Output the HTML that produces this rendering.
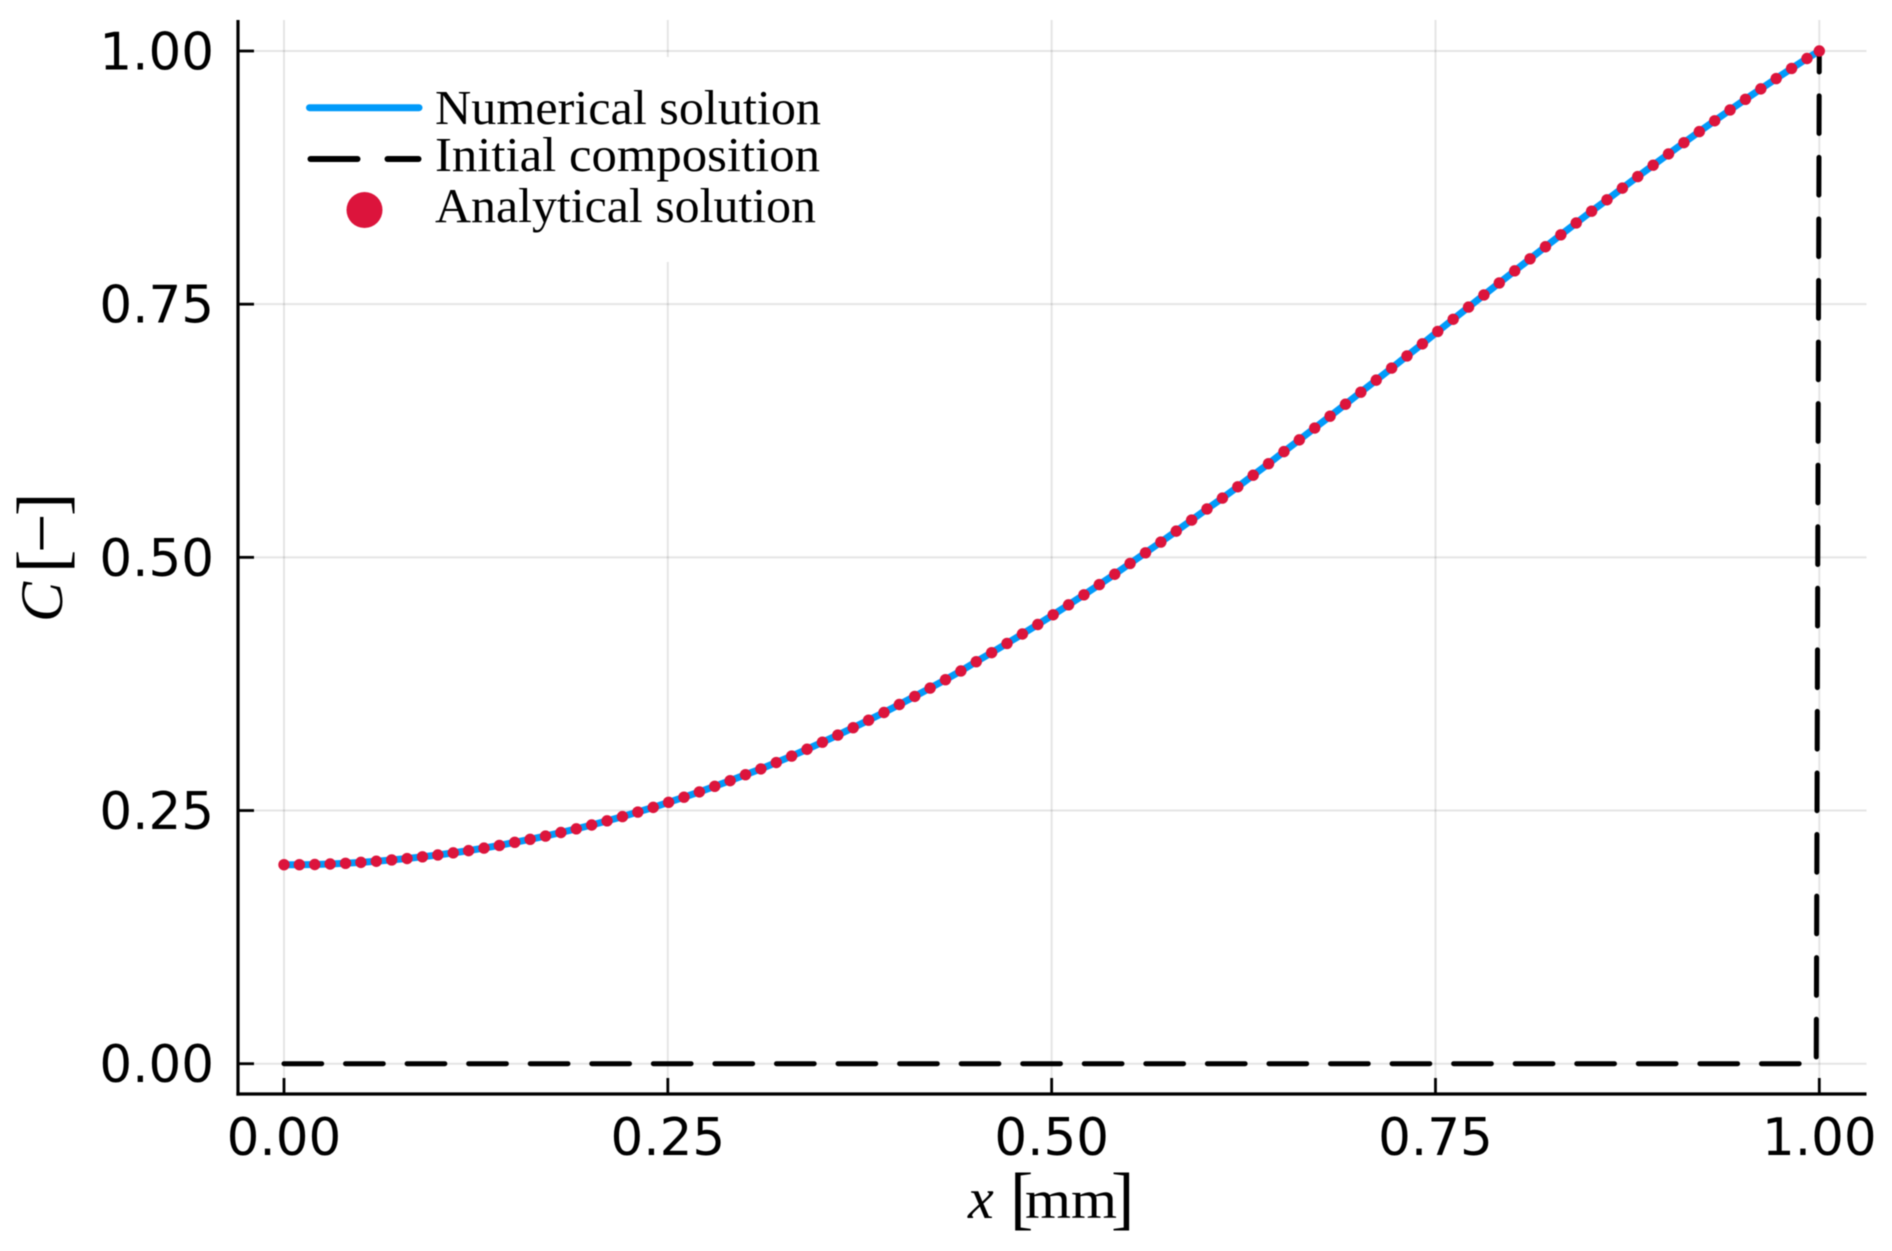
<!DOCTYPE html>
<html lang="en">
<head>
<meta charset="utf-8">
<title>Composition profile</title>
<style>
html,body{margin:0;padding:0;background:#fff;width:1892px;height:1251px;overflow:hidden}
svg{display:block;filter:blur(0.45px)}
.tick{font-family:"DejaVu Sans",sans-serif;font-size:51.5px;fill:#000}
.cm{font-family:"Liberation Serif",serif;fill:#000}
</style>
</head>
<body>
<svg id="chart" xmlns="http://www.w3.org/2000/svg" width="1892" height="1251" viewBox="0 0 1892 1251">
  <rect width="1892" height="1251" fill="#fff"/>
  <g id="grid"></g>
  <rect x="286" y="57" width="546" height="205" fill="#fff"/>
  <g id="series"></g>
  <g id="axes"></g>

  <g>
    <g>
      <line x1="309.5" y1="107.7" x2="419" y2="107.7" stroke="#009AFA" stroke-width="7" stroke-linecap="round"/>
      <text class="cm" x="435" y="124" font-size="49" textLength="386" lengthAdjust="spacingAndGlyphs">Numerical solution</text>
    </g>
    <g>
      <line x1="310.5" y1="159" x2="357.5" y2="159" stroke="#000" stroke-width="6" stroke-linecap="round"/>
      <line x1="387.5" y1="159" x2="418.5" y2="159" stroke="#000" stroke-width="6" stroke-linecap="round"/>
      <text class="cm" x="435" y="171" font-size="49" textLength="385" lengthAdjust="spacingAndGlyphs">Initial composition</text>
    </g>
    <g>
      <circle cx="364.5" cy="210" r="18" fill="#DC143C"/>
      <text class="cm" x="435" y="222" font-size="49" textLength="381" lengthAdjust="spacingAndGlyphs">Analytical solution</text>
    </g>
  </g>

  <text class="cm" y="1218" font-size="54"><tspan x="968" font-style="italic" font-size="58">x</tspan> <tspan x="1010" dy="3" font-size="70">[</tspan><tspan x="1025" dy="-3" textLength="92" lengthAdjust="spacingAndGlyphs">mm</tspan><tspan x="1111" dy="3" font-size="70">]</tspan></text>
  <text class="cm" transform="translate(62 622) rotate(-90)" font-size="60"><tspan x="0" font-style="italic">C</tspan> <tspan x="49" dy="3" font-size="70">[</tspan><tspan x="69" font-size="70">−</tspan><tspan x="106" font-size="70">]</tspan></text>
</svg>

<script>
const xTicks = [0, 0.25, 0.5, 0.75, 1];
const xTickLabels = ["0.00", "0.25", "0.50", "0.75", "1.00"];
const yTicks = [0, 0.25, 0.5, 0.75, 1];
const yTickLabels = ["0.00", "0.25", "0.50", "0.75", "1.00"];

const xValues = [0,0.01002,0.02004,0.03006,0.04008,0.0501,0.06012,0.07014,0.08016,0.09018,
0.1002,0.11022,0.12024,0.13026,0.14028,0.1503,0.16032,0.17034,0.18036,0.19038,
0.2004,0.21042,0.22044,0.23046,0.24048,0.2505,0.26052,0.27054,0.28056,0.29058,
0.3006,0.31062,0.32064,0.33066,0.34068,0.3507,0.36072,0.37074,0.38076,0.39078,
0.4008,0.41082,0.42084,0.43086,0.44088,0.4509,0.46092,0.47094,0.48096,0.49098,
0.501,0.51102,0.52104,0.53106,0.54108,0.5511,0.56112,0.57114,0.58116,0.59118,
0.6012,0.61122,0.62124,0.63126,0.64128,0.6513,0.66132,0.67134,0.68136,0.69138,
0.7014,0.71142,0.72144,0.73146,0.74148,0.7515,0.76152,0.77154,0.78156,0.79158,
0.8016,0.81162,0.82164,0.83166,0.84168,0.8517,0.86172,0.87174,0.88176,0.89178,
0.9018,0.91182,0.92184,0.93186,0.94188,0.9519,0.96192,0.97194,0.98196,0.99198,1];

const numericalValues = [0.1965,0.1965,0.1967,0.1972,0.1979,0.1988,0.1999,0.2012,0.2026,0.2043,
0.2061,0.2082,0.2104,0.2129,0.2155,0.2186,0.2216,0.2248,0.2283,0.2319,
0.2357,0.2398,0.2440,0.2485,0.2531,0.2581,0.2632,0.2684,0.2739,0.2795,
0.2854,0.2911,0.2974,0.3038,0.3105,0.3175,0.3245,0.3318,0.3392,0.3468,
0.3547,0.3627,0.3709,0.3792,0.3878,0.3970,0.4059,0.4150,0.4243,0.4337,
0.4433,0.4531,0.4630,0.4731,0.4833,0.4940,0.5045,0.5151,0.5259,0.5368,
0.5478,0.5585,0.5697,0.5811,0.5925,0.6044,0.6160,0.6277,0.6394,0.6512,
0.6631,0.6750,0.6869,0.6989,0.7108,0.7231,0.7351,0.7471,0.7591,0.7710,
0.7829,0.7948,0.8067,0.8185,0.8302,0.8418,0.8531,0.8646,0.8760,0.8872,
0.8984,0.9095,0.9204,0.9311,0.9418,0.9523,0.9626,0.9728,0.9828,0.9926,1];

const analyticalValues = [0.1965,0.1965,0.1967,0.1972,0.1979,0.1988,0.1999,0.2012,0.2026,0.2043,
0.2061,0.2082,0.2104,0.2129,0.2155,0.2186,0.2216,0.2248,0.2283,0.2319,
0.2357,0.2398,0.2440,0.2485,0.2531,0.2581,0.2632,0.2684,0.2739,0.2795,
0.2854,0.2911,0.2974,0.3038,0.3105,0.3175,0.3245,0.3318,0.3392,0.3468,
0.3547,0.3627,0.3709,0.3792,0.3878,0.3970,0.4059,0.4150,0.4243,0.4337,
0.4433,0.4531,0.4630,0.4731,0.4833,0.4940,0.5045,0.5151,0.5259,0.5368,
0.5478,0.5585,0.5697,0.5811,0.5925,0.6044,0.6160,0.6277,0.6394,0.6512,
0.6631,0.6750,0.6869,0.6989,0.7108,0.7231,0.7351,0.7471,0.7591,0.7710,
0.7829,0.7948,0.8067,0.8185,0.8302,0.8418,0.8531,0.8646,0.8760,0.8872,
0.8984,0.9095,0.9204,0.9311,0.9418,0.9523,0.9626,0.9728,0.9828,0.9926,1];

const initialX = [0, 0.998, 1];
const initialValues = [0, 0, 1];

const NS = "http://www.w3.org/2000/svg";
function sx(v){ return 284 + v * 1535.3; }
function sy(v){ return 1063.7 - v * 1012.7; }
function make(tag, parent, attrs){
  const el = document.createElementNS(NS, tag);
  for (const k in attrs) el.setAttribute(k, attrs[k]);
  parent.appendChild(el);
  return el;
}
function pathOf(xs, ys){
  return xs.map(function(x, i){ return (i ? "L" : "M") + sx(x).toFixed(2) + " " + sy(ys[i]).toFixed(2); }).join(" ");
}

const gridG = document.getElementById("grid");
const axesG = document.getElementById("axes");
const seriesG = document.getElementById("series");

const L = 238, R = 1866.5, T = 20, B = 1094;

xTicks.forEach(function(v){
  const g = make("line", gridG, {x1: sx(v), x2: sx(v), y1: T, y2: B, stroke: "rgba(0,0,0,0.1)", "stroke-width": 2});
  
  
});
yTicks.forEach(function(v){
  const g = make("line", gridG, {x1: L, x2: R, y1: sy(v), y2: sy(v), stroke: "rgba(0,0,0,0.1)", "stroke-width": 2});
  
  
});

const numLine = make("path", seriesG, {d: pathOf(xValues, numericalValues), fill: "none", stroke: "#009AFA", "stroke-width": 7, "stroke-linejoin": "round"});



const initLine = make("path", seriesG, {d: pathOf(initialX, initialValues), fill: "none", stroke: "#000", "stroke-width": 5, "stroke-linecap": "round", "stroke-dasharray": "37.7 23.86"});



xValues.forEach(function(x, i){
  const c = make("circle", seriesG, {cx: sx(x), cy: sy(analyticalValues[i]), r: 5.7, fill: "#DC143C"});
  
  
});

const leftSpine = make("line", axesG, {x1: L, x2: L, y1: T, y2: B + 1.6, stroke: "#000", "stroke-width": 3.2});


const bottomSpine = make("line", axesG, {x1: L - 1.6, x2: R, y1: B, y2: B, stroke: "#000", "stroke-width": 3.2});



xTicks.forEach(function(v, i){
  const t = make("line", axesG, {x1: sx(v), x2: sx(v), y1: B, y2: B - 16, stroke: "#000", "stroke-width": 2.8});
  
  
  const lab = make("text", axesG, {x: sx(v), y: 1155, "text-anchor": "middle", "class": "tick"});
  
  
  lab.textContent = xTickLabels[i];
});
yTicks.forEach(function(v, i){
  const t = make("line", axesG, {x1: L, x2: L + 16, y1: sy(v), y2: sy(v), stroke: "#000", "stroke-width": 2.8});
  
  
  const lab = make("text", axesG, {x: 214, y: sy(v) + 18.4, "text-anchor": "end", "class": "tick"});
  
  
  lab.textContent = yTickLabels[i];
});
</script>
</body>
</html>
